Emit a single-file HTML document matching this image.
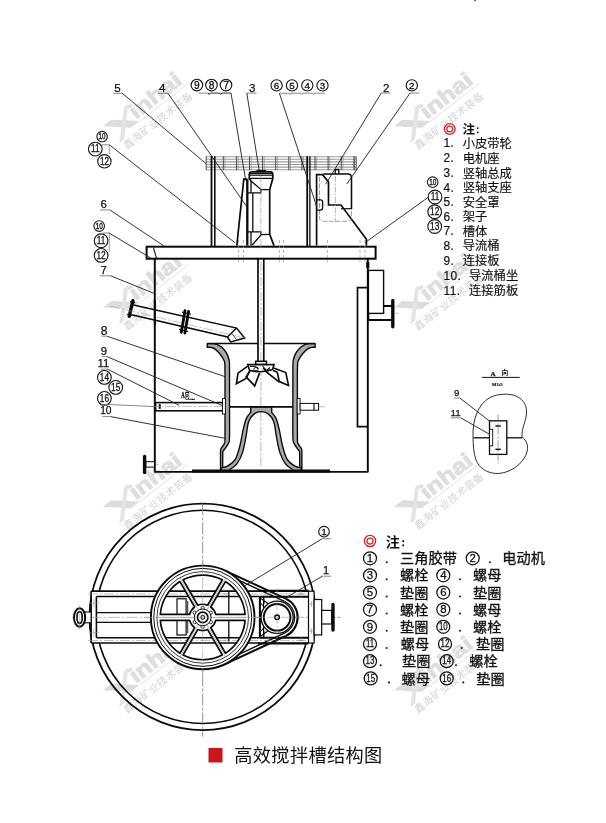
<!DOCTYPE html>
<html><head><meta charset="utf-8"><title>高效搅拌槽结构图</title>
<style>
html,body{margin:0;padding:0;background:#fff;}
body{width:606px;height:823px;overflow:hidden;font-family:"Liberation Sans",sans-serif;}
svg{display:block;font-family:"Liberation Sans",sans-serif;}
</style></head><body>
<svg width="606" height="823" viewBox="0 0 606 823">
<rect width="606" height="823" fill="#fff"/>
<g opacity="0.999">
<g transform="translate(136.8,122.5) rotate(-38)"><polygon points="-29,-18 -18.5,-18 3,0.5 -8,0.5" fill="#dddddd"/><polygon points="-0.5,-20 4.8,-20 -20.5,5.5 -26.5,5.5" fill="#e4e4e4"/><text x="1" y="-2.6" font-size="21.5" font-weight="bold" fill="#dedede" stroke="#dedede" stroke-width="0.9" textLength="60" lengthAdjust="spacingAndGlyphs">inhai</text><line x1="3" y1="0.8" x2="65" y2="0.8" stroke="#d8d8d8" stroke-width="0.7"/><text x="-24.5" y="15.3" font-size="10.3" letter-spacing="0.3" fill="#d4d4d4" font-family="'Liberation Sans','Noto Sans CJK SC',sans-serif">鑫海矿业技术装备</text></g>
<g transform="translate(427.8,122.5) rotate(-38)"><polygon points="-29,-18 -18.5,-18 3,0.5 -8,0.5" fill="#dddddd"/><polygon points="-0.5,-20 4.8,-20 -20.5,5.5 -26.5,5.5" fill="#e4e4e4"/><text x="1" y="-2.6" font-size="21.5" font-weight="bold" fill="#dedede" stroke="#dedede" stroke-width="0.9" textLength="60" lengthAdjust="spacingAndGlyphs">inhai</text><line x1="3" y1="0.8" x2="65" y2="0.8" stroke="#d8d8d8" stroke-width="0.7"/><text x="-24.5" y="15.3" font-size="10.3" letter-spacing="0.3" fill="#d4d4d4" font-family="'Liberation Sans','Noto Sans CJK SC',sans-serif">鑫海矿业技术装备</text></g>
<g transform="translate(136.8,303.8) rotate(-38)"><polygon points="-29,-18 -18.5,-18 3,0.5 -8,0.5" fill="#dddddd"/><polygon points="-0.5,-20 4.8,-20 -20.5,5.5 -26.5,5.5" fill="#e4e4e4"/><text x="1" y="-2.6" font-size="21.5" font-weight="bold" fill="#dedede" stroke="#dedede" stroke-width="0.9" textLength="60" lengthAdjust="spacingAndGlyphs">inhai</text><line x1="3" y1="0.8" x2="65" y2="0.8" stroke="#d8d8d8" stroke-width="0.7"/><text x="-24.5" y="15.3" font-size="10.3" letter-spacing="0.3" fill="#d4d4d4" font-family="'Liberation Sans','Noto Sans CJK SC',sans-serif">鑫海矿业技术装备</text></g>
<g transform="translate(427.8,303.8) rotate(-38)"><polygon points="-29,-18 -18.5,-18 3,0.5 -8,0.5" fill="#dddddd"/><polygon points="-0.5,-20 4.8,-20 -20.5,5.5 -26.5,5.5" fill="#e4e4e4"/><text x="1" y="-2.6" font-size="21.5" font-weight="bold" fill="#dedede" stroke="#dedede" stroke-width="0.9" textLength="60" lengthAdjust="spacingAndGlyphs">inhai</text><line x1="3" y1="0.8" x2="65" y2="0.8" stroke="#d8d8d8" stroke-width="0.7"/><text x="-24.5" y="15.3" font-size="10.3" letter-spacing="0.3" fill="#d4d4d4" font-family="'Liberation Sans','Noto Sans CJK SC',sans-serif">鑫海矿业技术装备</text></g>
<g transform="translate(136.8,503) rotate(-38)"><polygon points="-29,-18 -18.5,-18 3,0.5 -8,0.5" fill="#dddddd"/><polygon points="-0.5,-20 4.8,-20 -20.5,5.5 -26.5,5.5" fill="#e4e4e4"/><text x="1" y="-2.6" font-size="21.5" font-weight="bold" fill="#dedede" stroke="#dedede" stroke-width="0.9" textLength="60" lengthAdjust="spacingAndGlyphs">inhai</text><line x1="3" y1="0.8" x2="65" y2="0.8" stroke="#d8d8d8" stroke-width="0.7"/><text x="-24.5" y="15.3" font-size="10.3" letter-spacing="0.3" fill="#d4d4d4" font-family="'Liberation Sans','Noto Sans CJK SC',sans-serif">鑫海矿业技术装备</text></g>
<g transform="translate(427.8,503) rotate(-38)"><polygon points="-29,-18 -18.5,-18 3,0.5 -8,0.5" fill="#dddddd"/><polygon points="-0.5,-20 4.8,-20 -20.5,5.5 -26.5,5.5" fill="#e4e4e4"/><text x="1" y="-2.6" font-size="21.5" font-weight="bold" fill="#dedede" stroke="#dedede" stroke-width="0.9" textLength="60" lengthAdjust="spacingAndGlyphs">inhai</text><line x1="3" y1="0.8" x2="65" y2="0.8" stroke="#d8d8d8" stroke-width="0.7"/><text x="-24.5" y="15.3" font-size="10.3" letter-spacing="0.3" fill="#d4d4d4" font-family="'Liberation Sans','Noto Sans CJK SC',sans-serif">鑫海矿业技术装备</text></g>
<g transform="translate(136.8,686.5) rotate(-38)"><polygon points="-29,-18 -18.5,-18 3,0.5 -8,0.5" fill="#dddddd"/><polygon points="-0.5,-20 4.8,-20 -20.5,5.5 -26.5,5.5" fill="#e4e4e4"/><text x="1" y="-2.6" font-size="21.5" font-weight="bold" fill="#dedede" stroke="#dedede" stroke-width="0.9" textLength="60" lengthAdjust="spacingAndGlyphs">inhai</text><line x1="3" y1="0.8" x2="65" y2="0.8" stroke="#d8d8d8" stroke-width="0.7"/><text x="-24.5" y="15.3" font-size="10.3" letter-spacing="0.3" fill="#d4d4d4" font-family="'Liberation Sans','Noto Sans CJK SC',sans-serif">鑫海矿业技术装备</text></g>
<g transform="translate(427.8,686.5) rotate(-38)"><polygon points="-29,-18 -18.5,-18 3,0.5 -8,0.5" fill="#dddddd"/><polygon points="-0.5,-20 4.8,-20 -20.5,5.5 -26.5,5.5" fill="#e4e4e4"/><text x="1" y="-2.6" font-size="21.5" font-weight="bold" fill="#dedede" stroke="#dedede" stroke-width="0.9" textLength="60" lengthAdjust="spacingAndGlyphs">inhai</text><line x1="3" y1="0.8" x2="65" y2="0.8" stroke="#d8d8d8" stroke-width="0.7"/><text x="-24.5" y="15.3" font-size="10.3" letter-spacing="0.3" fill="#d4d4d4" font-family="'Liberation Sans','Noto Sans CJK SC',sans-serif">鑫海矿业技术装备</text></g>
<rect x="474.3" y="0" width="1.4" height="1.2" fill="#333"/>
<g><line x1="206.2" y1="156.8" x2="356.2" y2="156.8" stroke="#9c9c9c" stroke-width="1.1" /><line x1="206.2" y1="159.3" x2="356.2" y2="159.3" stroke="#9c9c9c" stroke-width="1.1" /><line x1="206.2" y1="161.9" x2="356.2" y2="161.9" stroke="#9c9c9c" stroke-width="1.1" /><line x1="206.2" y1="164.5" x2="356.2" y2="164.5" stroke="#9c9c9c" stroke-width="1.1" /><line x1="206.2" y1="167.1" x2="356.2" y2="167.1" stroke="#9c9c9c" stroke-width="1.1" /><line x1="206.2" y1="169.7" x2="356.2" y2="169.7" stroke="#9c9c9c" stroke-width="1.1" /><line x1="206.2" y1="156.3" x2="206.2" y2="170.2" stroke="#4a4a4a" stroke-width="1.0" /><line x1="223.3" y1="156.3" x2="223.3" y2="170.2" stroke="#4a4a4a" stroke-width="1.0" /><line x1="225.0" y1="156.3" x2="225.0" y2="170.2" stroke="#8a8a8a" stroke-width="0.7" /><line x1="236.4" y1="156.3" x2="236.4" y2="170.2" stroke="#4a4a4a" stroke-width="1.0" /><line x1="238.1" y1="156.3" x2="238.1" y2="170.2" stroke="#8a8a8a" stroke-width="0.7" /><line x1="249.5" y1="156.3" x2="249.5" y2="170.2" stroke="#4a4a4a" stroke-width="1.0" /><line x1="251.2" y1="156.3" x2="251.2" y2="170.2" stroke="#8a8a8a" stroke-width="0.7" /><line x1="262.6" y1="156.3" x2="262.6" y2="170.2" stroke="#4a4a4a" stroke-width="1.0" /><line x1="264.3" y1="156.3" x2="264.3" y2="170.2" stroke="#8a8a8a" stroke-width="0.7" /><line x1="275.7" y1="156.3" x2="275.7" y2="170.2" stroke="#4a4a4a" stroke-width="1.0" /><line x1="277.4" y1="156.3" x2="277.4" y2="170.2" stroke="#8a8a8a" stroke-width="0.7" /><line x1="288.8" y1="156.3" x2="288.8" y2="170.2" stroke="#4a4a4a" stroke-width="1.0" /><line x1="290.5" y1="156.3" x2="290.5" y2="170.2" stroke="#8a8a8a" stroke-width="0.7" /><line x1="301.9" y1="156.3" x2="301.9" y2="170.2" stroke="#4a4a4a" stroke-width="1.0" /><line x1="303.6" y1="156.3" x2="303.6" y2="170.2" stroke="#8a8a8a" stroke-width="0.7" /><line x1="315.0" y1="156.3" x2="315.0" y2="170.2" stroke="#4a4a4a" stroke-width="1.0" /><line x1="316.7" y1="156.3" x2="316.7" y2="170.2" stroke="#8a8a8a" stroke-width="0.7" /><line x1="328.1" y1="156.3" x2="328.1" y2="170.2" stroke="#4a4a4a" stroke-width="1.0" /><line x1="329.8" y1="156.3" x2="329.8" y2="170.2" stroke="#8a8a8a" stroke-width="0.7" /><line x1="341.2" y1="156.3" x2="341.2" y2="170.2" stroke="#4a4a4a" stroke-width="1.0" /><line x1="342.9" y1="156.3" x2="342.9" y2="170.2" stroke="#8a8a8a" stroke-width="0.7" /><line x1="354.3" y1="156.3" x2="354.3" y2="170.2" stroke="#4a4a4a" stroke-width="1.0" /><line x1="356.2" y1="156.3" x2="356.2" y2="170.2" stroke="#4a4a4a" stroke-width="1.0" /><line x1="353.8" y1="156.3" x2="353.8" y2="170.2" stroke="#666" stroke-width="0.8" /></g>
<line x1="211.5" y1="156.3" x2="211.5" y2="246" stroke="#0a0a0a" stroke-width="1.82" />
<line x1="214.8" y1="156.3" x2="214.8" y2="246" stroke="#0a0a0a" stroke-width="1.56" />
<line x1="307.2" y1="156.3" x2="307.2" y2="246" stroke="#0a0a0a" stroke-width="1.82" />
<line x1="309.9" y1="156.3" x2="309.9" y2="246" stroke="#0a0a0a" stroke-width="1.3" />
<rect x="146.6" y="246.7" width="229" height="12" fill="#fff" stroke="#0a0a0a" stroke-width="2"/>
<line x1="154.8" y1="258.6" x2="154.8" y2="472" stroke="#0a0a0a" stroke-width="1.95" />
<line x1="367.8" y1="258.6" x2="367.8" y2="472" stroke="#0a0a0a" stroke-width="1.95" />
<line x1="154.2" y1="471.9" x2="368.4" y2="471.9" stroke="#0a0a0a" stroke-width="1.56" />
<line x1="192" y1="471.0" x2="330" y2="471.0" stroke="#0a0a0a" stroke-width="2.86" />
<line x1="153.5" y1="248" x2="156.5" y2="258" stroke="#0a0a0a" stroke-width="1.04" />
<line x1="238.5" y1="240" x2="238.5" y2="262" stroke="#999" stroke-width="0.7" stroke-dasharray="3 2"/>
<line x1="243.5" y1="240" x2="243.5" y2="262" stroke="#999" stroke-width="0.7" stroke-dasharray="3 2"/>
<line x1="279.5" y1="240" x2="279.5" y2="262" stroke="#999" stroke-width="0.7" stroke-dasharray="3 2"/>
<line x1="283.5" y1="240" x2="283.5" y2="262" stroke="#999" stroke-width="0.7" stroke-dasharray="3 2"/>
<line x1="327.5" y1="240" x2="327.5" y2="262" stroke="#999" stroke-width="0.7" stroke-dasharray="3 2"/>
<line x1="360" y1="240" x2="360" y2="262" stroke="#999" stroke-width="0.7" stroke-dasharray="3 2"/>
<line x1="365" y1="240" x2="365" y2="262" stroke="#999" stroke-width="0.7" stroke-dasharray="3 2"/>
<g><path d="M236.8,245.6 L243.8,179.2 L247.3,179.2" stroke="#0a0a0a" stroke-width="1.69" fill="none" /><line x1="247.3" y1="179.2" x2="247.3" y2="245.6" stroke="#0a0a0a" stroke-width="2.34" /><path d="M251.5,171.9 L270.5,171.9 Q272.8,172 272.8,174.5 L272.8,178.6 L269.7,189.6 L269.7,234.3 L274,245.6" stroke="#0a0a0a" stroke-width="1.69" fill="none" /><path d="M251.5,171.9 Q249.3,172 249.3,174.5 L249.3,178.6 L251,180.6" stroke="#0a0a0a" stroke-width="1.69" fill="none" /><line x1="249.8" y1="173.5" x2="272.4" y2="173.5" stroke="#0a0a0a" stroke-width="1.17" /><line x1="249.3" y1="175.2" x2="272.8" y2="175.2" stroke="#0a0a0a" stroke-width="1.17" /><line x1="249.3" y1="178.4" x2="272.8" y2="178.4" stroke="#0a0a0a" stroke-width="1.17" /><line x1="256.5" y1="171" x2="266" y2="171" stroke="#0a0a0a" stroke-width="2.08" /><path d="M251,180.6 L251,192.8 M247.3,192.8 L261.3,192.8 M252.8,193 L252.8,231.4 M247.3,231.8 L261.3,231.8 M251,232 L251,245.6" stroke="#0a0a0a" stroke-width="1.3" fill="none" /><path d="M251,181 L260.9,189.4 L269.7,189.6 M260.9,189.4 L260.9,192.8" stroke="#0a0a0a" stroke-width="1.3" fill="none" /><path d="M260.9,231.8 L260.9,234.6 L269.7,234.3 M260.9,235 L252.2,245" stroke="#0a0a0a" stroke-width="1.3" fill="none" /><line x1="260.9" y1="176" x2="260.9" y2="250" stroke="#999" stroke-width="0.7" stroke-dasharray="6 1.5 1.5 1.5"/></g>
<g><path d="M316.6,245.6 L316.6,174.6 L322.6,174.6 L328.5,182 L328.5,205 L341,205 L366.4,239.2 L366.4,245.6" stroke="#0a0a0a" stroke-width="1.69" fill="none" /><path d="M323.5,174 L348,174 Q351.5,174 351.5,178 L351.5,209" stroke="#0a0a0a" stroke-width="1.56" fill="none" /><line x1="341" y1="208.7" x2="351.5" y2="208.7" stroke="#0a0a0a" stroke-width="1.17" /><path d="M335.2,174 L335.2,169.5 L338.8,169.5 L338.8,174" stroke="#0a0a0a" stroke-width="1.3" fill="none" /><path d="M319.5,177 L319.5,217.5 Q319.5,221.3 323.5,221.3 L347,221.3 Q351.5,221.3 351.5,217.5 L351.5,209" stroke="#777" stroke-width="0.7" fill="none" stroke-dasharray="5 1.5"/><path d="M316.8,199.9 L320.6,199.9 Q322.6,199.9 322.6,202 L322.6,208 Q322.6,210.1 320.6,210.1 L316.8,210.1" stroke="#0a0a0a" stroke-width="1.3" fill="none" /><line x1="335.4" y1="176" x2="335.4" y2="222" stroke="#999" stroke-width="0.7" stroke-dasharray="6 1.5 1.5 1.5"/><line x1="313" y1="205" x2="326" y2="205" stroke="#999" stroke-width="0.5" /></g>
<line x1="258.0" y1="258.6" x2="258.0" y2="361.3" stroke="#0a0a0a" stroke-width="1.69" />
<line x1="263.8" y1="258.6" x2="263.8" y2="361.3" stroke="#0a0a0a" stroke-width="1.69" />
<line x1="260.9" y1="262" x2="260.9" y2="468" stroke="#999" stroke-width="0.7" stroke-dasharray="9 2 2 2"/>
<g><rect x="255.7" y="361.3" width="10.8" height="3.2" fill="#fff" stroke="#0a0a0a" stroke-width="1.5"/><path d="M247.7,364.6 L274,364.6 L272.6,369.5 Q261,373.5 249.5,370.2 Z" stroke="#0a0a0a" stroke-width="1.62" fill="#fff" /><path d="M247.7,366.1 L238,373.1 L236.4,383.8 L246.1,378.4 L249.8,370.9" stroke="#0a0a0a" stroke-width="1.62" fill="none" /><path d="M249.8,370.9 L246.1,376.8 L254.7,385.9 L259.5,373.1" stroke="#0a0a0a" stroke-width="1.62" fill="none" /><path d="M272.9,367.7 L285.8,372.5 L288.5,385.4 L279.3,381.6 L277.2,372" stroke="#0a0a0a" stroke-width="1.62" fill="none" /><path d="M263.3,367.7 L267,372.5 L279.3,382.2 M272.9,370.4 L277.2,372" stroke="#0a0a0a" stroke-width="1.62" fill="none" /><ellipse cx="256" cy="369.2" rx="2.2" ry="1.7" fill="none" stroke="#0a0a0a" stroke-width="0.8"/><path d="M250,366.5 Q255,365.5 258.5,368.5 M262.5,366 L266.5,370.5 L270,367.5" stroke="#0a0a0a" stroke-width="1.04" fill="none" /></g>
<defs><pattern id="hat" width="1.8" height="1.8" patternUnits="userSpaceOnUse" patternTransform="rotate(-45)"><rect width="1.8" height="1.8" fill="#fff"/><line x1="0" y1="0.9" x2="1.8" y2="0.9" stroke="#222" stroke-width="0.7"/></pattern></defs>
<path d="M207.2,343.6 L213.70,343.60 C214.42,343.82 216.70,344.32 218.00,344.90 C219.30,345.48 220.10,345.77 221.50,347.10 C222.90,348.43 225.17,350.83 226.40,352.90 C227.63,354.97 228.38,357.32 228.90,359.50 C229.42,361.68 229.40,359.25 229.50,366.00 C229.60,372.75 229.50,388.17 229.50,400.00 C229.50,411.83 229.70,429.75 229.50,437.00 C229.30,444.25 229.10,441.50 228.30,443.50 C227.50,445.50 225.62,447.70 224.70,449.00 C223.78,450.30 223.12,450.92 222.80,451.30 L222.6,470.2 L220.5,470.2 L220.50,450.50 C220.63,450.12 220.65,449.37 221.30,448.20 C221.95,447.03 223.78,445.20 224.40,443.50 C225.02,441.80 224.90,445.25 225.00,438.00 C225.10,430.75 225.02,412.00 225.00,400.00 C224.98,388.00 225.15,372.75 224.90,366.00 C224.65,359.25 224.35,361.55 223.50,359.50 C222.65,357.45 221.32,355.52 219.80,353.70 C218.28,351.88 215.92,349.67 214.40,348.60 C212.88,347.53 211.32,347.52 210.70,347.30 L207.2,347.3 Z" stroke="#0a0a0a" stroke-width="1.37" fill="url(#hat)" stroke-linejoin="round"/>
<path d="M315.2,343.6 L308.70,343.60 C307.98,343.82 305.70,344.32 304.40,344.90 C303.10,345.48 302.30,345.77 300.90,347.10 C299.50,348.43 297.23,350.83 296.00,352.90 C294.77,354.97 294.02,357.32 293.50,359.50 C292.98,361.68 293.00,359.25 292.90,366.00 C292.80,372.75 292.90,388.17 292.90,400.00 C292.90,411.83 292.70,429.75 292.90,437.00 C293.10,444.25 293.30,441.50 294.10,443.50 C294.90,445.50 296.78,447.70 297.70,449.00 C298.62,450.30 299.28,450.92 299.60,451.30 L299.8,470.2 L301.9,470.2 L301.90,450.50 C301.77,450.12 301.75,449.37 301.10,448.20 C300.45,447.03 298.62,445.20 298.00,443.50 C297.38,441.80 297.50,445.25 297.40,438.00 C297.30,430.75 297.38,412.00 297.40,400.00 C297.42,388.00 297.25,372.75 297.50,366.00 C297.75,359.25 298.05,361.55 298.90,359.50 C299.75,357.45 301.08,355.52 302.60,353.70 C304.12,351.88 306.48,349.67 308.00,348.60 C309.52,347.53 311.08,347.52 311.70,347.30 L315.2,347.3 Z" stroke="#0a0a0a" stroke-width="1.37" fill="url(#hat)" stroke-linejoin="round"/>
<line x1="207.5" y1="343.5" x2="258" y2="343.5" stroke="#0a0a0a" stroke-width="1.43" />
<line x1="264" y1="343.5" x2="315" y2="343.5" stroke="#0a0a0a" stroke-width="1.43" />
<path d="M250.7,406.8 L250.7,412.4 C249.98,413.40 247.65,415.57 246.40,418.40 C245.15,421.23 244.25,424.97 243.20,429.40 C242.15,433.83 241.40,440.05 240.10,445.00 C238.80,449.95 237.50,455.57 235.40,459.10 C233.30,462.63 229.87,464.75 227.50,466.20 C225.13,467.65 222.25,467.53 221.20,467.80 L221.2,470.2 L229.9,470.2 L229.9,469.5 C231.07,468.55 234.82,466.57 236.90,463.80 C238.98,461.03 240.90,457.33 242.40,452.90 C243.90,448.47 244.85,442.43 245.90,437.20 C246.95,431.97 247.32,425.38 248.70,421.50 C250.08,417.62 252.12,415.55 254.20,413.90 C256.28,412.25 258.87,411.60 261.20,411.60 C263.53,411.60 266.12,412.25 268.20,413.90 C270.28,415.55 272.32,417.62 273.70,421.50 C275.08,425.38 275.45,431.97 276.50,437.20 C277.55,442.43 278.50,448.47 280.00,452.90 C281.50,457.33 283.42,461.03 285.50,463.80 C287.58,466.57 291.33,468.55 292.50,469.50 L292.50,470.2 L301.20,470.2 L301.20,467.80 C300.15,467.53 297.27,467.65 294.90,466.20 C292.53,464.75 289.10,462.63 287.00,459.10 C284.90,455.57 283.60,449.95 282.30,445.00 C281.00,440.05 280.25,433.83 279.20,429.40 C278.15,424.97 277.25,421.23 276.00,418.40 C274.75,415.57 272.42,413.40 271.70,412.40 L271.7,406.8 Z" stroke="#0a0a0a" stroke-width="1.37" fill="url(#hat)" stroke-linejoin="round"/>
<rect x="155.6" y="402.6" width="67.2" height="8.2" fill="#fff" stroke="#0a0a0a" stroke-width="1.6"/>
<line x1="159.7" y1="404.2" x2="159.7" y2="408.8" stroke="#0a0a0a" stroke-width="2.08" />
<line x1="165.6" y1="403.5" x2="165.6" y2="409.5" stroke="#999" stroke-width="0.6" stroke-dasharray="2 1"/>
<line x1="150" y1="406.5" x2="222" y2="406.5" stroke="#999" stroke-width="0.6" stroke-dasharray="10 2 2 2"/>
<rect x="222.5" y="398.6" width="2.9" height="15.4" fill="#fff" stroke="#0a0a0a" stroke-width="0.9"/>
<rect x="297.2" y="398.6" width="2.9" height="15.4" fill="#fff" stroke="#0a0a0a" stroke-width="0.9"/>
<line x1="229.5" y1="406.9" x2="293" y2="406.9" stroke="#0a0a0a" stroke-width="1.56" />
<rect x="300.1" y="403.4" width="18.5" height="6.8" fill="#fff" stroke="#0a0a0a" stroke-width="1.0"/>
<line x1="314" y1="403.4" x2="314" y2="410.2" stroke="#0a0a0a" stroke-width="1.17" />
<line x1="318.6" y1="406.8" x2="325" y2="406.8" stroke="#999" stroke-width="0.6" />
<text x="181.2" y="398" font-size="7.2" font-family="Liberation Serif" font-weight="bold" fill="#111" stroke="#111" stroke-width="0.3" textLength="3.4" lengthAdjust="spacingAndGlyphs">A</text>
<text transform="translate(184.8,398.1) scale(0.63,1)" x="0" y="0" font-size="7.6" font-weight="bold" fill="#111" font-family="'Liberation Sans','Noto Sans CJK SC',sans-serif">向</text>
<line x1="185.4" y1="399.3" x2="195" y2="399.3" stroke="#111" stroke-width="0.8" />
<polygon points="191.6,398.7 195.3,399.3 191.6,400.1" fill="#111"/>
<g><path d="M133.4,304.9 L236.6,328.1 L244.6,338 L230.7,341.9 L227.5,337 L131.7,314.8" stroke="#0a0a0a" stroke-width="1.56" fill="none" /><path d="M236.6,328.1 L227.5,337" stroke="#0a0a0a" stroke-width="1.43" fill="none" /><path d="M232.2,333.8 L236.2,339.3" stroke="#0a0a0a" stroke-width="0.78" fill="none" /><line x1="133.0" y1="300.6" x2="129.2" y2="316.4" stroke="#0a0a0a" stroke-width="3.38" stroke-linecap="round"/><line x1="185.0" y1="310.6" x2="181.3" y2="332.2" stroke="#0a0a0a" stroke-width="2.86" stroke-linecap="round"/><line x1="188.6" y1="311.4" x2="184.9" y2="333.0" stroke="#0a0a0a" stroke-width="2.86" stroke-linecap="round"/><line x1="110" y1="306.1" x2="246" y2="338.2" stroke="#999" stroke-width="0.6" stroke-dasharray="10 2 2 2"/><line x1="130.09" y1="301.59" x2="135.15" y2="302.77" stroke="#0a0a0a" stroke-width="1.17" /><line x1="127.05" y1="314.23" x2="132.11" y2="315.41" stroke="#0a0a0a" stroke-width="1.17" /><line x1="181.95" y1="312.11" x2="190.91" y2="314.21" stroke="#0a0a0a" stroke-width="1.17" /><line x1="178.99" y1="329.39" x2="187.95" y2="331.49" stroke="#0a0a0a" stroke-width="1.17" /></g>
<line x1="154.8" y1="300" x2="154.8" y2="325" stroke="#0a0a0a" stroke-width="1.95" />
<line x1="144.6" y1="456.5" x2="144.6" y2="472.5" stroke="#0a0a0a" stroke-width="3.38" stroke-linecap="round"/>
<rect x="146" y="461.7" width="8.5" height="5.4" fill="#fff" stroke="#0a0a0a" stroke-width="1"/>
<line x1="156" y1="464.4" x2="159" y2="464.4" stroke="#999" stroke-width="0.6" />
<rect x="368.4" y="270.4" width="15.2" height="43" fill="#fff" stroke="#0a0a0a" stroke-width="1.4"/>
<path d="M383.6,306 L392,306 M368.4,320 L392,320 M368.4,313.4 L368.4,320" stroke="#0a0a0a" stroke-width="1.82" fill="none" />
<line x1="392.8" y1="300.5" x2="392.8" y2="326.8" stroke="#0a0a0a" stroke-width="3.38" stroke-linecap="round"/>
<line x1="394" y1="313.3" x2="399" y2="313.3" stroke="#999" stroke-width="0.6" />
<path d="M367.2,287.6 L357.5,287.6 L357.5,426.6 L367.2,426.6" stroke="#0a0a0a" stroke-width="1.69" fill="none" />
<line x1="367.8" y1="262" x2="367.8" y2="268" stroke="#0a0a0a" stroke-width="3.12" />
<g><text x="114.2" y="91.8" font-size="11.6" fill="#111" stroke="#111" stroke-width="0.25">5</text><path d="M113.5,93.3 L122.3,93.3" stroke="#6a6a6a" stroke-width="0.8" fill="none" /><path d="M122.3,93.3 L206.2,163.7" stroke="#1c1c1c" stroke-width="0.9" fill="none" /><text x="159" y="91.8" font-size="11.6" fill="#111" stroke="#111" stroke-width="0.25">4</text><path d="M158.1,93.3 L168,93.3" stroke="#6a6a6a" stroke-width="0.8" fill="none" /><path d="M168,93.3 L247,207" stroke="#1c1c1c" stroke-width="0.9" fill="none" /><circle cx="196.9" cy="85.1" r="5.8" fill="none" stroke="#111" stroke-width="1.10"/><text x="196.9" y="88.60" font-size="10.2" text-anchor="middle" fill="#111" stroke="#111" stroke-width="0.3">9</text><circle cx="211.5" cy="85.1" r="5.8" fill="none" stroke="#111" stroke-width="1.10"/><text x="211.5" y="88.60" font-size="10.2" text-anchor="middle" fill="#111" stroke="#111" stroke-width="0.3">8</text><circle cx="226" cy="85.1" r="5.8" fill="none" stroke="#111" stroke-width="1.10"/><text x="226" y="88.60" font-size="10.2" text-anchor="middle" fill="#111" stroke="#111" stroke-width="0.3">7</text><path d="M198.4,93.1 L208.2,93.1" stroke="#6a6a6a" stroke-width="0.8" fill="none" /><path d="M208.2,93.1 L209.1,94.5 L210,93.1 L219.9,93.1 L220.8,94.5 L221.7,93.1 L231,93.1 L245.8,180.9" stroke="#1c1c1c" stroke-width="0.9" fill="none" /><text x="248.9" y="92" font-size="11.6" fill="#111" stroke="#111" stroke-width="0.25">3</text><path d="M256.5,93.1 L246.8,93.1" stroke="#6a6a6a" stroke-width="0.8" fill="none" /><path d="M246.8,93.1 L259.2,170.5" stroke="#1c1c1c" stroke-width="0.9" fill="none" /><circle cx="276.6" cy="85.4" r="5.6" fill="none" stroke="#111" stroke-width="1.10"/><text x="276.6" y="88.78" font-size="9.8" text-anchor="middle" fill="#111" stroke="#111" stroke-width="0.3">6</text><circle cx="292" cy="85.4" r="5.6" fill="none" stroke="#111" stroke-width="1.10"/><text x="292" y="88.78" font-size="9.8" text-anchor="middle" fill="#111" stroke="#111" stroke-width="0.3">5</text><circle cx="307.3" cy="85.4" r="5.6" fill="none" stroke="#111" stroke-width="1.10"/><text x="307.3" y="88.78" font-size="9.8" text-anchor="middle" fill="#111" stroke="#111" stroke-width="0.3">4</text><circle cx="322.5" cy="85.4" r="5.6" fill="none" stroke="#111" stroke-width="1.10"/><text x="322.5" y="88.78" font-size="9.8" text-anchor="middle" fill="#111" stroke="#111" stroke-width="0.3">3</text><path d="M325,93.2 L314.3,93.2 L313.4,94.5 L312.5,93.2 L302.8,93.2 L301.9,94.5 L301,93.2 L291.2,93.2 L290.3,94.5 L289.4,93.2 L279.4,93.2" stroke="#6a6a6a" stroke-width="0.8" fill="none" /><path d="M279.4,93.2 L316.5,206" stroke="#1c1c1c" stroke-width="0.9" fill="none" /><text x="383" y="91.6" font-size="11.6" fill="#111" stroke="#111" stroke-width="0.25">2</text><path d="M390.3,93 L381.3,93" stroke="#6a6a6a" stroke-width="0.8" fill="none" /><path d="M381.3,93 L325.6,184.3" stroke="#1c1c1c" stroke-width="0.9" fill="none" /><circle cx="411.8" cy="85.4" r="5.6" fill="none" stroke="#111" stroke-width="1.10"/><text x="411.8" y="88.78" font-size="9.8" text-anchor="middle" fill="#111" stroke="#111" stroke-width="0.3">2</text><path d="M419.5,93 L410.1,93" stroke="#6a6a6a" stroke-width="0.8" fill="none" /><path d="M410.1,93 L346.8,184" stroke="#1c1c1c" stroke-width="0.9" fill="none" /><circle cx="102.1" cy="136.6" r="5.2" fill="none" stroke="#1a1a1a" stroke-width="1.10"/><text transform="translate(102.1,139.26) scale(0.72,1)" x="0" y="0" font-size="8.7" text-anchor="middle" fill="#1a1a1a" stroke="#1a1a1a" stroke-width="0.42">10</text><circle cx="95.3" cy="149.1" r="6.85" fill="none" stroke="#111" stroke-width="1.10"/><text transform="translate(95.3,152.41) scale(0.78,1)" x="0" y="0" font-size="10.6" text-anchor="middle" fill="#111" stroke="#111" stroke-width="0.3">11</text><circle cx="104.4" cy="161.3" r="6.7" fill="none" stroke="#111" stroke-width="1.10"/><text transform="translate(104.4,164.53) scale(0.78,1)" x="0" y="0" font-size="10.4" text-anchor="middle" fill="#111" stroke="#111" stroke-width="0.3">12</text><path d="M101.9,144.8 L109.3,144.8" stroke="#6a6a6a" stroke-width="0.8" fill="none" /><path d="M109.3,144.8 L109.3,154.3" stroke="#888" stroke-width="0.8" fill="none" /><path d="M109.3,144.8 L235,242.7" stroke="#1c1c1c" stroke-width="0.9" fill="none" /><text x="100.4" y="207.9" font-size="11.4" fill="#111" stroke="#111" stroke-width="0.25">6</text><path d="M99.9,209.9 L109.8,209.9" stroke="#6a6a6a" stroke-width="0.8" fill="none" /><path d="M109.8,209.9 L164.2,246.1" stroke="#1c1c1c" stroke-width="0.9" fill="none" /><circle cx="99.2" cy="226.1" r="5.3" fill="none" stroke="#1a1a1a" stroke-width="1.10"/><text transform="translate(99.2,228.82) scale(0.72,1)" x="0" y="0" font-size="8.9" text-anchor="middle" fill="#1a1a1a" stroke="#1a1a1a" stroke-width="0.42">10</text><circle cx="101.1" cy="240.7" r="6.85" fill="none" stroke="#111" stroke-width="1.10"/><text transform="translate(101.1,244.01) scale(0.78,1)" x="0" y="0" font-size="10.6" text-anchor="middle" fill="#111" stroke="#111" stroke-width="0.3">11</text><circle cx="101.1" cy="255.4" r="6.85" fill="none" stroke="#111" stroke-width="1.10"/><text transform="translate(101.1,258.71) scale(0.78,1)" x="0" y="0" font-size="10.6" text-anchor="middle" fill="#111" stroke="#111" stroke-width="0.3">12</text><path d="M102.7,233 L109.3,233" stroke="#6a6a6a" stroke-width="0.8" fill="none" /><path d="M109.3,233 L109.3,252.1" stroke="#888" stroke-width="0.8" fill="none" /><path d="M109.2,233 L151.3,258.4" stroke="#1c1c1c" stroke-width="0.9" fill="none" /><text x="100.4" y="274.2" font-size="11.4" fill="#111" stroke="#111" stroke-width="0.25">7</text><path d="M99.9,275.8 L110.7,275.8" stroke="#6a6a6a" stroke-width="0.8" fill="none" /><path d="M110.7,275.8 L153.8,293.3" stroke="#1c1c1c" stroke-width="0.9" fill="none" /><text x="100.7" y="335" font-size="12" fill="#111" stroke="#111" stroke-width="0.25">8</text><path d="M101.5,336.2 L106.9,336.2" stroke="#6a6a6a" stroke-width="0.8" fill="none" /><path d="M106.9,336.2 L224.9,376.6" stroke="#1c1c1c" stroke-width="0.9" fill="none" /><text x="100.8" y="355.2" font-size="11.3" fill="#111" stroke="#111" stroke-width="0.25">9</text><path d="M101.5,356.6 L106.9,356.6" stroke="#6a6a6a" stroke-width="0.8" fill="none" /><path d="M106.9,356.6 L222.4,405.6" stroke="#1c1c1c" stroke-width="0.9" fill="none" /><text x="97.6" y="367.4" font-size="11.3" fill="#111" stroke="#111" stroke-width="0.25">11</text><path d="M100.6,369.2 L107.5,369.2" stroke="#6a6a6a" stroke-width="0.8" fill="none" /><path d="M107.5,369.2 L179.1,405.3" stroke="#1c1c1c" stroke-width="0.9" fill="none" /><circle cx="104.4" cy="377.4" r="6.85" fill="none" stroke="#111" stroke-width="1.10"/><text transform="translate(104.4,380.71) scale(0.78,1)" x="0" y="0" font-size="10.6" text-anchor="middle" fill="#111" stroke="#111" stroke-width="0.3">14</text><circle cx="115.7" cy="387.4" r="6.85" fill="none" stroke="#111" stroke-width="1.10"/><text transform="translate(115.7,390.71) scale(0.78,1)" x="0" y="0" font-size="10.6" text-anchor="middle" fill="#111" stroke="#111" stroke-width="0.3">15</text><circle cx="104.4" cy="398.4" r="6.85" fill="none" stroke="#111" stroke-width="1.10"/><text transform="translate(104.4,401.71) scale(0.78,1)" x="0" y="0" font-size="10.6" text-anchor="middle" fill="#111" stroke="#111" stroke-width="0.3">16</text><path d="M100.7,404.6 L110.6,404.6" stroke="#6a6a6a" stroke-width="0.8" fill="none" /><path d="M110.6,404.6 L154.9,406.6" stroke="#555" stroke-width="0.7" fill="none" /><text x="100.2" y="414.3" font-size="10.2" fill="#111" stroke="#111" stroke-width="0.25">10</text><path d="M102.4,416.6 L110.6,416.6" stroke="#6a6a6a" stroke-width="0.8" fill="none" /><path d="M110.6,416.6 L224.9,438.3" stroke="#1c1c1c" stroke-width="0.9" fill="none" /><circle cx="432.7" cy="182.2" r="5.3" fill="none" stroke="#1a1a1a" stroke-width="1.10"/><text transform="translate(432.7,184.92) scale(0.72,1)" x="0" y="0" font-size="8.9" text-anchor="middle" fill="#1a1a1a" stroke="#1a1a1a" stroke-width="0.42">10</text><circle cx="435" cy="197" r="6.85" fill="none" stroke="#111" stroke-width="1.10"/><text transform="translate(435,200.31) scale(0.78,1)" x="0" y="0" font-size="10.6" text-anchor="middle" fill="#111" stroke="#111" stroke-width="0.3">11</text><circle cx="434.7" cy="211.7" r="6.85" fill="none" stroke="#111" stroke-width="1.10"/><text transform="translate(434.7,215.01) scale(0.78,1)" x="0" y="0" font-size="10.6" text-anchor="middle" fill="#111" stroke="#111" stroke-width="0.3">12</text><circle cx="434.7" cy="226.5" r="6.85" fill="none" stroke="#111" stroke-width="1.10"/><text transform="translate(434.7,229.81) scale(0.78,1)" x="0" y="0" font-size="10.6" text-anchor="middle" fill="#111" stroke="#111" stroke-width="0.3">13</text><path d="M428.4,197.2 L365,242.7" stroke="#1c1c1c" stroke-width="0.9" fill="none" /></g>
<g><text x="490.5" y="375.8" font-size="7" font-family="Liberation Serif" font-weight="bold" fill="#111" stroke="#111" stroke-width="0.25">A</text><text x="501.5" y="375.3" font-size="6.8" font-weight="bold" fill="#111" font-family="'Liberation Sans','Noto Sans CJK SC',sans-serif">向</text><line x1="482.1" y1="377.4" x2="519.7" y2="377.4" stroke="#111" stroke-width="1.0" /><text x="492" y="386" font-size="4.8" font-family="Liberation Serif" font-weight="bold" fill="#111" stroke="#111" stroke-width="0.2" textLength="10.7" lengthAdjust="spacingAndGlyphs">M1:5</text><text x="454" y="396.4" font-size="9.8" fill="#111" stroke="#111" stroke-width="0.25">9</text><path d="M454,398 L459.8,398" stroke="#6a6a6a" stroke-width="0.8" fill="none" /><path d="M459.8,398 L489.5,421" stroke="#1c1c1c" stroke-width="0.9" fill="none" /><text x="450.6" y="416.2" font-size="9.8" fill="#111" stroke="#111" stroke-width="0.25">11</text><path d="M450.7,417.8 L460.6,417.8" stroke="#6a6a6a" stroke-width="0.8" fill="none" /><path d="M460.6,417.8 L489.5,434.3" stroke="#1c1c1c" stroke-width="0.9" fill="none" /><path d="M473,436 C472.5,420 478,404 490,397.5 C498,393.5 510,393 517,396.5 C524,400 527,406 526.5,413 C526,422 521.5,428 522,436.7 C524,439 528,442 527.5,448.5 C527,458 518,468 506,472 C492,476.5 480,470 476,460 C473.5,453 473.2,445 473,436 Z" stroke="#222" stroke-width="0.95" fill="none" /><rect x="489.5" y="420.8" width="17.3" height="33.6" fill="#fff" stroke="#0a0a0a" stroke-width="1.3"/><rect x="489.5" y="429.3" width="3.2" height="16.5" fill="#fff" stroke="#0a0a0a" stroke-width="0.9"/><line x1="473.5" y1="437.8" x2="489.5" y2="437.8" stroke="#0a0a0a" stroke-width="1.3" /><line x1="506.8" y1="437.8" x2="522.3" y2="437.8" stroke="#0a0a0a" stroke-width="1.3" /><line x1="498.1" y1="414.5" x2="498.1" y2="463.5" stroke="#555" stroke-width="0.6" stroke-dasharray="7 2 2 2"/><line x1="495.4" y1="426" x2="500.8" y2="426" stroke="#0a0a0a" stroke-width="1.43" /><line x1="495.4" y1="449.3" x2="500.8" y2="449.3" stroke="#0a0a0a" stroke-width="1.43" /></g>
<g><circle cx="202.7" cy="616.9" r="113.2" fill="none" stroke="#0a0a0a" stroke-width="1.8"/><circle cx="202.7" cy="616.9" r="106.6" fill="none" stroke="#0a0a0a" stroke-width="1.6"/><line x1="202.7" y1="503.5" x2="202.7" y2="736.5" stroke="#777" stroke-width="0.8" stroke-dasharray="12 2 3 2"/><rect x="91.1" y="591.2" width="217.4" height="51.8" fill="#fff"/><path d="M91.1,591.2 L308.5,591.2 M91.1,643 L308.5,643 M91.1,591.2 L91.1,643" stroke="#0a0a0a" stroke-width="1.69" fill="none" /><path d="M96.4,596.5 L259.5,596.5 M96.4,637.8 L259.5,637.8 M96.4,596.5 L96.4,637.8" stroke="#0a0a0a" stroke-width="1.56" fill="none" /><path d="M96.4,612.6 L160,612.6 M96.4,622.4 L160,622.4" stroke="#0a0a0a" stroke-width="1.43" fill="none" /><line x1="88" y1="593.9" x2="312" y2="593.9" stroke="#999" stroke-width="0.6" stroke-dasharray="10 2 2 2"/><line x1="88" y1="640.5" x2="312" y2="640.5" stroke="#999" stroke-width="0.6" stroke-dasharray="10 2 2 2"/><line x1="72" y1="617.4" x2="340" y2="617.4" stroke="#999" stroke-width="0.6" stroke-dasharray="12 2 2 2"/><line x1="88.9" y1="603" x2="98.9" y2="603" stroke="#999" stroke-width="0.6" /><line x1="93.9" y1="599" x2="93.9" y2="607" stroke="#999" stroke-width="0.6" /><line x1="88.9" y1="632.4" x2="98.9" y2="632.4" stroke="#999" stroke-width="0.6" /><line x1="93.9" y1="628.4" x2="93.9" y2="636.4" stroke="#999" stroke-width="0.6" /><rect x="177" y="598.8" width="9.1" height="36.2" fill="none" stroke="#0a0a0a" stroke-width="1.2"/><line x1="187.4" y1="601" x2="187.4" y2="633.5" stroke="#555" stroke-width="1.8" /><path d="M228.8,592 L228.8,641.5" stroke="#0a0a0a" stroke-width="1.3" fill="none" /><path d="M223.5,594 L228.8,594 M223.5,640.2 L228.8,640.2" stroke="#777" stroke-width="0.6" fill="none" /><rect x="84.5" y="612" width="6.6" height="10.8" fill="#fff" stroke="#0a0a0a" stroke-width="1.1"/><ellipse cx="79.6" cy="617.5" rx="5.6" ry="9.2" fill="#fff" stroke="#0a0a0a" stroke-width="2.0"/><ellipse cx="79.6" cy="617.5" rx="2.6" ry="5.9" fill="#fff" stroke="#0a0a0a" stroke-width="1.6"/><line x1="79.6" y1="605" x2="79.6" y2="630" stroke="#999" stroke-width="0.5" /><path d="M259.9,596.8 L259.9,637.6" stroke="#0a0a0a" stroke-width="2.08" fill="none" /><path d="M259.5,596.7 L308.5,596.7 M259.5,637.7 L308.5,637.7" stroke="#0a0a0a" stroke-width="1.95" fill="none" /><path d="M258,590.6 L308.5,590.6 M258,643.6 L308.5,643.6" stroke="#0a0a0a" stroke-width="1.82" fill="none" /><path d="M263.5,596.8 L263.5,637.6" stroke="#0a0a0a" stroke-width="1.04" fill="none" /><path d="M261,598.5 L270,605 M264,604 L264,598 M261,636 L270,629.5 M264,630.5 L264,636.5 M261,603.5 L265.5,608.5 M261,631 L265.5,626" stroke="#0a0a0a" stroke-width="1.04" fill="none" /><path d="M224.42,570.37 L285.74,598.60 M285.74,636.00 L224.42,664.43" stroke="#0a0a0a" stroke-width="2.02" fill="none" /><path d="M223.23,573.13 L284.46,601.42 M284.46,633.18 L223.23,661.67" stroke="#0a0a0a" stroke-width="1.43" fill="none" /><circle cx="202.7" cy="617.4" r="51.8" fill="#fff" stroke="none"/><clipPath id="winclip"><path d="M215.70,620.40 L245.10,620.40 A43.0,43.0 0 0 1 225.46,653.22 L210.76,627.76 A13.0,13.0 0 0 0 215.70,620.40 Z M207.64,629.56 L222.34,655.02 A43.0,43.0 0 0 1 183.06,655.02 L197.76,629.56 A13.0,13.0 0 0 0 207.64,629.56 Z M194.64,627.76 L179.94,653.22 A43.0,43.0 0 0 1 160.30,620.40 L189.70,620.40 A13.0,13.0 0 0 0 194.64,627.76 Z M189.70,614.40 L160.30,614.40 A43.0,43.0 0 0 1 179.94,581.58 L194.64,607.04 A13.0,13.0 0 0 0 189.70,614.40 Z M197.76,605.24 L183.06,579.78 A43.0,43.0 0 0 1 222.34,579.78 L207.64,605.24 A13.0,13.0 0 0 0 197.76,605.24 Z M210.76,607.04 L225.46,581.58 A43.0,43.0 0 0 1 245.10,614.40 L215.70,614.40 A13.0,13.0 0 0 0 210.76,607.04 Z"/></clipPath><g clip-path="url(#winclip)"><path d="M91.1,591.2 L308.5,591.2 M91.1,643 L308.5,643 M91.1,591.2 L91.1,643" stroke="#0a0a0a" stroke-width="1.69" fill="none" /><path d="M96.4,596.5 L259.5,596.5 M96.4,637.8 L259.5,637.8 M96.4,596.5 L96.4,637.8" stroke="#0a0a0a" stroke-width="1.56" fill="none" /><path d="M96.4,612.6 L160,612.6 M96.4,622.4 L160,622.4" stroke="#0a0a0a" stroke-width="1.43" fill="none" /><line x1="88" y1="593.9" x2="312" y2="593.9" stroke="#999" stroke-width="0.6" stroke-dasharray="10 2 2 2"/><line x1="88" y1="640.5" x2="312" y2="640.5" stroke="#999" stroke-width="0.6" stroke-dasharray="10 2 2 2"/><line x1="72" y1="617.4" x2="340" y2="617.4" stroke="#999" stroke-width="0.6" stroke-dasharray="12 2 2 2"/><line x1="88.9" y1="603" x2="98.9" y2="603" stroke="#999" stroke-width="0.6" /><line x1="93.9" y1="599" x2="93.9" y2="607" stroke="#999" stroke-width="0.6" /><line x1="88.9" y1="632.4" x2="98.9" y2="632.4" stroke="#999" stroke-width="0.6" /><line x1="93.9" y1="628.4" x2="93.9" y2="636.4" stroke="#999" stroke-width="0.6" /><rect x="177" y="598.8" width="9.1" height="36.2" fill="none" stroke="#0a0a0a" stroke-width="1.2"/><line x1="187.4" y1="601" x2="187.4" y2="633.5" stroke="#555" stroke-width="1.8" /><path d="M228.8,592 L228.8,641.5" stroke="#0a0a0a" stroke-width="1.3" fill="none" /><path d="M223.5,594 L228.8,594 M223.5,640.2 L228.8,640.2" stroke="#777" stroke-width="0.6" fill="none" /></g><circle cx="202.7" cy="617.4" r="51.8" fill="none" stroke="#0a0a0a" stroke-width="1.9"/><circle cx="202.7" cy="617.4" r="49.0" fill="none" stroke="#0a0a0a" stroke-width="1.0"/><circle cx="202.7" cy="617.4" r="45.8" fill="none" stroke="#0a0a0a" stroke-width="0.8"/><path d="M215.70,620.40 L245.10,620.40 A43.0,43.0 0 0 1 225.46,653.22 L210.76,627.76 A13.0,13.0 0 0 0 215.70,620.40 Z M207.64,629.56 L222.34,655.02 A43.0,43.0 0 0 1 183.06,655.02 L197.76,629.56 A13.0,13.0 0 0 0 207.64,629.56 Z M194.64,627.76 L179.94,653.22 A43.0,43.0 0 0 1 160.30,620.40 L189.70,620.40 A13.0,13.0 0 0 0 194.64,627.76 Z M189.70,614.40 L160.30,614.40 A43.0,43.0 0 0 1 179.94,581.58 L194.64,607.04 A13.0,13.0 0 0 0 189.70,614.40 Z M197.76,605.24 L183.06,579.78 A43.0,43.0 0 0 1 222.34,579.78 L207.64,605.24 A13.0,13.0 0 0 0 197.76,605.24 Z M210.76,607.04 L225.46,581.58 A43.0,43.0 0 0 1 245.10,614.40 L215.70,614.40 A13.0,13.0 0 0 0 210.76,607.04 Z" stroke="#0a0a0a" stroke-width="1.69" fill="none" stroke-linejoin="round"/><line x1="156.9" y1="617.4" x2="248.5" y2="617.4" stroke="#777" stroke-width="0.5" /><line x1="179.8" y1="577.74" x2="225.6" y2="657.06" stroke="#777" stroke-width="0.5" /><line x1="225.6" y1="577.74" x2="179.8" y2="657.06" stroke="#777" stroke-width="0.5" /><circle cx="210.75" cy="622.05" r="1.7" fill="#fff" stroke="#0a0a0a" stroke-width="0.8"/><circle cx="202.70" cy="626.70" r="1.7" fill="#fff" stroke="#0a0a0a" stroke-width="0.8"/><circle cx="194.65" cy="622.05" r="1.7" fill="#fff" stroke="#0a0a0a" stroke-width="0.8"/><circle cx="194.65" cy="612.75" r="1.7" fill="#fff" stroke="#0a0a0a" stroke-width="0.8"/><circle cx="202.70" cy="608.10" r="1.7" fill="#fff" stroke="#0a0a0a" stroke-width="0.8"/><circle cx="210.75" cy="612.75" r="1.7" fill="#fff" stroke="#0a0a0a" stroke-width="0.8"/><circle cx="202.7" cy="617.4" r="8.4" fill="#fff" stroke="#0a0a0a" stroke-width="1.0"/><circle cx="202.7" cy="617.4" r="5.2" fill="#fff" stroke="#0a0a0a" stroke-width="1.7"/><circle cx="202.7" cy="617.4" r="1.9" fill="#fff" stroke="#0a0a0a" stroke-width="1.1"/><line x1="202.7" y1="559.4" x2="202.7" y2="675.4" stroke="#999" stroke-width="0.6" stroke-dasharray="12 2 2 2"/><line x1="144.7" y1="617.4" x2="260.7" y2="617.4" stroke="#999" stroke-width="0.6" stroke-dasharray="12 2 2 2"/><circle cx="277.1" cy="617.3" r="16.1" fill="#fff" stroke="none"/><path d="M285.74,598.60 A20.6,20.6 0 0 1 285.74,636.00" fill="none" stroke="#0a0a0a" stroke-width="2.1"/><path d="M284.46,601.42 A17.5,17.5 0 0 1 284.46,633.18" fill="none" stroke="#0a0a0a" stroke-width="1.4"/><circle cx="277.1" cy="617.3" r="16.1" fill="none" stroke="#0a0a0a" stroke-width="1.3"/><circle cx="277.1" cy="617.3" r="13.3" fill="none" stroke="#0a0a0a" stroke-width="2.0"/><circle cx="277.1" cy="617.3" r="2.3" fill="#fff" stroke="#0a0a0a" stroke-width="1.5"/><line x1="277.1" y1="588" x2="277.1" y2="647" stroke="#999" stroke-width="0.6" stroke-dasharray="8 2 2 2"/><line x1="253.10000000000002" y1="617.3" x2="341.1" y2="617.3" stroke="#999" stroke-width="0.6" stroke-dasharray="8 2 2 2"/><rect x="308.5" y="591.2" width="5.6" height="51.8" fill="#fff" stroke="#0a0a0a" stroke-width="1.2"/><rect x="314.1" y="599.5" width="7.6" height="35.4" fill="#fff" stroke="#0a0a0a" stroke-width="1.2"/><rect x="321.7" y="610.4" width="10" height="13.6" fill="#fff" stroke="#0a0a0a" stroke-width="1.2"/><line x1="333" y1="604.5" x2="333" y2="630" stroke="#0a0a0a" stroke-width="3.38" stroke-linecap="round"/><line x1="265" y1="594" x2="271" y2="594" stroke="#888" stroke-width="0.6" /><line x1="268" y1="591" x2="268" y2="597" stroke="#888" stroke-width="0.6" /><line x1="298" y1="594" x2="304" y2="594" stroke="#888" stroke-width="0.6" /><line x1="301" y1="591" x2="301" y2="597" stroke="#888" stroke-width="0.6" /><line x1="265" y1="640.3" x2="271" y2="640.3" stroke="#888" stroke-width="0.6" /><line x1="268" y1="637.3" x2="268" y2="643.3" stroke="#888" stroke-width="0.6" /><line x1="298" y1="640.3" x2="304" y2="640.3" stroke="#888" stroke-width="0.6" /><line x1="301" y1="637.3" x2="301" y2="643.3" stroke="#888" stroke-width="0.6" /><line x1="308.3" y1="604" x2="314.3" y2="604" stroke="#888" stroke-width="0.6" /><line x1="311.3" y1="601" x2="311.3" y2="607" stroke="#888" stroke-width="0.6" /><line x1="308.3" y1="631" x2="314.3" y2="631" stroke="#888" stroke-width="0.6" /><line x1="311.3" y1="628" x2="311.3" y2="634" stroke="#888" stroke-width="0.6" /><circle cx="324" cy="531.7" r="5.3" fill="none" stroke="#111" stroke-width="1.10"/><text x="324" y="534.90" font-size="9.3" text-anchor="middle" fill="#111" stroke="#111" stroke-width="0.3">1</text><path d="M331,538.7 L322.3,538.7" stroke="#6a6a6a" stroke-width="0.8" fill="none" /><path d="M322.3,538.7 L243.3,586.7" stroke="#1c1c1c" stroke-width="0.9" fill="none" /><text x="323" y="573.5" font-size="11" fill="#111" stroke="#111" stroke-width="0.25">1</text><path d="M331,576.2 L322.3,576.2" stroke="#6a6a6a" stroke-width="0.8" fill="none" /><path d="M322.3,576.2 L285,598.3" stroke="#1c1c1c" stroke-width="0.9" fill="none" /></g>
<circle cx="449.7" cy="129" r="5.4" fill="none" stroke="#d3232b" stroke-width="1.35"/><circle cx="449.7" cy="129" r="2.9" fill="none" stroke="#d3232b" stroke-width="1.25"/>
<text x="462.5" y="133.8" font-size="12.5" font-weight="bold" fill="#111" font-family="'Liberation Sans','Noto Sans CJK SC',sans-serif">注</text>
<rect x="476.9" y="127.4" width="1.6" height="1.6" fill="#111"/><rect x="476.9" y="131.7" width="1.6" height="1.6" fill="#111"/>
<text x="443.6" y="147.4" font-size="11.9" fill="#111" stroke="#111" stroke-width="0.2" letter-spacing="0.4">1.</text>
<text x="462.7" y="147.7" font-size="12.3" fill="#111" stroke="#111" stroke-width="0.15" font-family="'Liberation Sans','Noto Sans CJK SC',sans-serif">小皮带轮</text>
<text x="443.6" y="162.4" font-size="11.9" fill="#111" stroke="#111" stroke-width="0.2" letter-spacing="0.4">2.</text>
<text x="462.7" y="162.7" font-size="12.3" fill="#111" stroke="#111" stroke-width="0.15" font-family="'Liberation Sans','Noto Sans CJK SC',sans-serif">电机座</text>
<text x="443.6" y="177.4" font-size="11.9" fill="#111" stroke="#111" stroke-width="0.2" letter-spacing="0.4">3.</text>
<text x="462.7" y="177.7" font-size="12.3" fill="#111" stroke="#111" stroke-width="0.15" font-family="'Liberation Sans','Noto Sans CJK SC',sans-serif">竖轴总成</text>
<text x="443.6" y="191.8" font-size="11.9" fill="#111" stroke="#111" stroke-width="0.2" letter-spacing="0.4">4.</text>
<text x="462.7" y="192.1" font-size="12.3" fill="#111" stroke="#111" stroke-width="0.15" font-family="'Liberation Sans','Noto Sans CJK SC',sans-serif">竖轴支座</text>
<text x="443.6" y="206.4" font-size="11.9" fill="#111" stroke="#111" stroke-width="0.2" letter-spacing="0.4">5.</text>
<text x="462.7" y="206.7" font-size="12.3" fill="#111" stroke="#111" stroke-width="0.15" font-family="'Liberation Sans','Noto Sans CJK SC',sans-serif">安全罩</text>
<text x="443.6" y="220.8" font-size="11.9" fill="#111" stroke="#111" stroke-width="0.2" letter-spacing="0.4">6.</text>
<text x="462.7" y="221.1" font-size="12.3" fill="#111" stroke="#111" stroke-width="0.15" font-family="'Liberation Sans','Noto Sans CJK SC',sans-serif">架子</text>
<text x="443.6" y="235.4" font-size="11.9" fill="#111" stroke="#111" stroke-width="0.2" letter-spacing="0.4">7.</text>
<text x="462.7" y="235.7" font-size="12.3" fill="#111" stroke="#111" stroke-width="0.15" font-family="'Liberation Sans','Noto Sans CJK SC',sans-serif">槽体</text>
<text x="443.6" y="250.1" font-size="11.9" fill="#111" stroke="#111" stroke-width="0.2" letter-spacing="0.4">8.</text>
<text x="462.7" y="250.4" font-size="12.3" fill="#111" stroke="#111" stroke-width="0.15" font-family="'Liberation Sans','Noto Sans CJK SC',sans-serif">导流桶</text>
<text x="443.6" y="264.8" font-size="11.9" fill="#111" stroke="#111" stroke-width="0.2" letter-spacing="0.4">9.</text>
<text x="462.7" y="265.1" font-size="12.3" fill="#111" stroke="#111" stroke-width="0.15" font-family="'Liberation Sans','Noto Sans CJK SC',sans-serif">连接板</text>
<text x="443.6" y="280.1" font-size="11.9" fill="#111" stroke="#111" stroke-width="0.2" letter-spacing="0.4">10.</text>
<text x="469" y="280.4" font-size="12.3" fill="#111" stroke="#111" stroke-width="0.15" font-family="'Liberation Sans','Noto Sans CJK SC',sans-serif">导流桶坐</text>
<text x="443.6" y="294.8" font-size="11.9" fill="#111" stroke="#111" stroke-width="0.2" letter-spacing="0.4">11.</text>
<text x="469" y="295.1" font-size="12.3" fill="#111" stroke="#111" stroke-width="0.15" font-family="'Liberation Sans','Noto Sans CJK SC',sans-serif">连接筋板</text>
<circle cx="370" cy="541" r="5.6" fill="none" stroke="#d3232b" stroke-width="1.35"/><circle cx="370" cy="541" r="3.0" fill="none" stroke="#d3232b" stroke-width="1.25"/>
<text x="385.7" y="546.5" font-size="14" font-weight="bold" fill="#111" font-family="'Liberation Sans','Noto Sans CJK SC',sans-serif">注</text>
<rect x="402.3" y="540.3" width="1.8" height="1.8" fill="#111"/><rect x="402.3" y="544.4" width="1.8" height="1.8" fill="#111"/>
<circle cx="370" cy="558.3" r="6.5" fill="none" stroke="#111" stroke-width="1.25"/><text x="370" y="562.22" font-size="11.4" text-anchor="middle" fill="#111" stroke="#111" stroke-width="0.3">1</text>
<circle cx="386.7" cy="562.3" r="1.05" fill="#222"/>
<text x="400" y="563.4" font-size="14.2" letter-spacing="0.1" fill="#111" stroke="#111" stroke-width="0.3" font-family="'Liberation Sans','Noto Sans CJK SC',sans-serif">三角胶带</text>
<circle cx="472.7" cy="558.3" r="6.5" fill="none" stroke="#111" stroke-width="1.25"/><text x="472.7" y="562.22" font-size="11.4" text-anchor="middle" fill="#111" stroke="#111" stroke-width="0.3">2</text>
<circle cx="490" cy="562.3" r="1.05" fill="#222"/>
<text x="502.2" y="563.4" font-size="14.2" letter-spacing="0.1" fill="#111" stroke="#111" stroke-width="0.3" font-family="'Liberation Sans','Noto Sans CJK SC',sans-serif">电动机</text>
<circle cx="370" cy="575.3" r="6.5" fill="none" stroke="#111" stroke-width="1.25"/><text x="370" y="579.22" font-size="11.4" text-anchor="middle" fill="#111" stroke="#111" stroke-width="0.3">3</text>
<circle cx="386.7" cy="579.3" r="1.05" fill="#222"/>
<text x="400" y="580.4" font-size="14.2" letter-spacing="0.1" fill="#111" stroke="#111" stroke-width="0.3" font-family="'Liberation Sans','Noto Sans CJK SC',sans-serif">螺栓</text>
<circle cx="443.3" cy="575.3" r="6.5" fill="none" stroke="#111" stroke-width="1.25"/><text x="443.3" y="579.22" font-size="11.4" text-anchor="middle" fill="#111" stroke="#111" stroke-width="0.3">4</text>
<circle cx="460" cy="579.3" r="1.05" fill="#222"/>
<text x="472.9" y="580.4" font-size="14.2" letter-spacing="0.1" fill="#111" stroke="#111" stroke-width="0.3" font-family="'Liberation Sans','Noto Sans CJK SC',sans-serif">螺母</text>
<circle cx="370" cy="592.5" r="6.5" fill="none" stroke="#111" stroke-width="1.25"/><text x="370" y="596.42" font-size="11.4" text-anchor="middle" fill="#111" stroke="#111" stroke-width="0.3">5</text>
<circle cx="386.7" cy="596.5" r="1.05" fill="#222"/>
<text x="400" y="597.6" font-size="14.2" letter-spacing="0.1" fill="#111" stroke="#111" stroke-width="0.3" font-family="'Liberation Sans','Noto Sans CJK SC',sans-serif">垫圈</text>
<circle cx="443.3" cy="592.5" r="6.5" fill="none" stroke="#111" stroke-width="1.25"/><text x="443.3" y="596.42" font-size="11.4" text-anchor="middle" fill="#111" stroke="#111" stroke-width="0.3">6</text>
<circle cx="460" cy="596.5" r="1.05" fill="#222"/>
<text x="472.9" y="597.6" font-size="14.2" letter-spacing="0.1" fill="#111" stroke="#111" stroke-width="0.3" font-family="'Liberation Sans','Noto Sans CJK SC',sans-serif">垫圈</text>
<circle cx="370" cy="609.5" r="6.5" fill="none" stroke="#111" stroke-width="1.25"/><text x="370" y="613.42" font-size="11.4" text-anchor="middle" fill="#111" stroke="#111" stroke-width="0.3">7</text>
<circle cx="386.7" cy="613.5" r="1.05" fill="#222"/>
<text x="400" y="614.6" font-size="14.2" letter-spacing="0.1" fill="#111" stroke="#111" stroke-width="0.3" font-family="'Liberation Sans','Noto Sans CJK SC',sans-serif">螺栓</text>
<circle cx="443.3" cy="609.5" r="6.5" fill="none" stroke="#111" stroke-width="1.25"/><text x="443.3" y="613.42" font-size="11.4" text-anchor="middle" fill="#111" stroke="#111" stroke-width="0.3">8</text>
<circle cx="460" cy="613.5" r="1.05" fill="#222"/>
<text x="472.9" y="614.6" font-size="14.2" letter-spacing="0.1" fill="#111" stroke="#111" stroke-width="0.3" font-family="'Liberation Sans','Noto Sans CJK SC',sans-serif">螺母</text>
<circle cx="370" cy="626.8" r="6.5" fill="none" stroke="#111" stroke-width="1.25"/><text x="370" y="630.72" font-size="11.4" text-anchor="middle" fill="#111" stroke="#111" stroke-width="0.3">9</text>
<circle cx="386.7" cy="630.8" r="1.05" fill="#222"/>
<text x="400" y="631.9" font-size="14.2" letter-spacing="0.1" fill="#111" stroke="#111" stroke-width="0.3" font-family="'Liberation Sans','Noto Sans CJK SC',sans-serif">垫圈</text>
<circle cx="443.3" cy="626.8" r="6.5" fill="none" stroke="#111" stroke-width="1.25"/><text transform="translate(443.3,629.93) scale(0.78,1)" x="0" y="0" font-size="10.1" text-anchor="middle" fill="#111" stroke="#111" stroke-width="0.3">10</text>
<circle cx="460" cy="630.8" r="1.05" fill="#222"/>
<text x="472.9" y="631.9" font-size="14.2" letter-spacing="0.1" fill="#111" stroke="#111" stroke-width="0.3" font-family="'Liberation Sans','Noto Sans CJK SC',sans-serif">螺栓</text>
<circle cx="370" cy="644" r="6.5" fill="none" stroke="#111" stroke-width="1.25"/><text transform="translate(370,647.13) scale(0.78,1)" x="0" y="0" font-size="10.1" text-anchor="middle" fill="#111" stroke="#111" stroke-width="0.3">11</text>
<circle cx="386.7" cy="648.0" r="1.05" fill="#222"/>
<text x="400.8" y="649.1" font-size="14.2" letter-spacing="0.1" fill="#111" stroke="#111" stroke-width="0.3" font-family="'Liberation Sans','Noto Sans CJK SC',sans-serif">螺母</text>
<circle cx="445" cy="644" r="6.5" fill="none" stroke="#111" stroke-width="1.25"/><text transform="translate(445,647.13) scale(0.78,1)" x="0" y="0" font-size="10.1" text-anchor="middle" fill="#111" stroke="#111" stroke-width="0.3">12</text>
<circle cx="461.7" cy="648.0" r="1.05" fill="#222"/>
<text x="476" y="649.1" font-size="14.2" letter-spacing="0.1" fill="#111" stroke="#111" stroke-width="0.3" font-family="'Liberation Sans','Noto Sans CJK SC',sans-serif">垫圈</text>
<circle cx="370" cy="661.2" r="6.5" fill="none" stroke="#111" stroke-width="1.25"/><text transform="translate(370,664.33) scale(0.78,1)" x="0" y="0" font-size="10.1" text-anchor="middle" fill="#111" stroke="#111" stroke-width="0.3">13</text>
<circle cx="380.7" cy="665.2" r="1.05" fill="#222"/>
<text x="401.9" y="666.3" font-size="14.2" letter-spacing="0.1" fill="#111" stroke="#111" stroke-width="0.3" font-family="'Liberation Sans','Noto Sans CJK SC',sans-serif">垫圈</text>
<circle cx="446.7" cy="661.2" r="6.5" fill="none" stroke="#111" stroke-width="1.25"/><text transform="translate(446.7,664.33) scale(0.78,1)" x="0" y="0" font-size="10.1" text-anchor="middle" fill="#111" stroke="#111" stroke-width="0.3">14</text>
<circle cx="456" cy="665.2" r="1.05" fill="#222"/>
<text x="469.3" y="666.3" font-size="14.2" letter-spacing="0.1" fill="#111" stroke="#111" stroke-width="0.3" font-family="'Liberation Sans','Noto Sans CJK SC',sans-serif">螺栓</text>
<circle cx="370.7" cy="678.4" r="6.5" fill="none" stroke="#111" stroke-width="1.25"/><text transform="translate(370.7,681.53) scale(0.78,1)" x="0" y="0" font-size="10.1" text-anchor="middle" fill="#111" stroke="#111" stroke-width="0.3">15</text>
<circle cx="389" cy="682.4" r="1.05" fill="#222"/>
<text x="401.5" y="683.5" font-size="14.2" letter-spacing="0.1" fill="#111" stroke="#111" stroke-width="0.3" font-family="'Liberation Sans','Noto Sans CJK SC',sans-serif">螺母</text>
<circle cx="446.7" cy="678.4" r="6.5" fill="none" stroke="#111" stroke-width="1.25"/><text transform="translate(446.7,681.53) scale(0.78,1)" x="0" y="0" font-size="10.1" text-anchor="middle" fill="#111" stroke="#111" stroke-width="0.3">16</text>
<circle cx="463.3" cy="682.4" r="1.05" fill="#222"/>
<text x="476.2" y="683.5" font-size="14.2" letter-spacing="0.1" fill="#111" stroke="#111" stroke-width="0.3" font-family="'Liberation Sans','Noto Sans CJK SC',sans-serif">垫圈</text>
<rect x="208.5" y="748" width="14" height="14.5" fill="#c9151b"/>
<text x="234.3" y="761.6" font-size="18.2" letter-spacing="0.35" fill="#111" font-family="'Liberation Sans','Noto Sans CJK SC',sans-serif">高效搅拌槽结构图</text>
</g>
</svg>
</body></html>
